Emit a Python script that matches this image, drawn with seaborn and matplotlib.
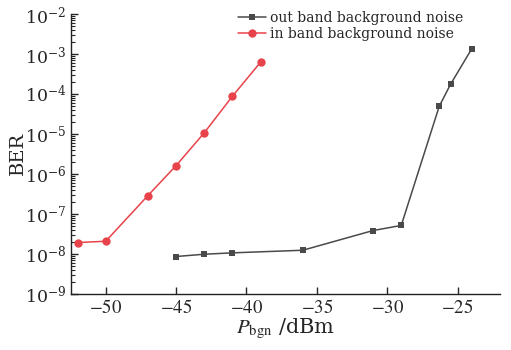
import numpy as np
import pandas as pd
import matplotlib
matplotlib.use("Agg")
import matplotlib.pyplot as plt
import matplotlib.ticker as mticker
import seaborn as sns

# data
out_x = [-45, -43, -41, -36, -31, -29, -26.3, -25.5, -24]
out_ber = [8.5e-9, 9.7e-9, 1.05e-8, 1.22e-8, 3.8e-8, 5.1e-8, 4.9e-5, 1.73e-4, 1.33e-3]
in_x = [-52, -50, -47, -45, -43, -41, -39]
in_ber = [1.9e-8, 2.05e-8, 2.85e-7, 1.6e-6, 1.06e-5, 8.7e-5, 6.2e-4]

sns.set_style("ticks")
plt.rcParams['font.family'] = ['DejaVu Serif', 'Liberation Serif']
plt.rcParams['mathtext.fontset'] = 'stix'

fig = plt.figure(figsize=(5.11, 3.5), dpi=100)
ax = fig.add_axes([0.138, 0.161, 0.84, 0.799])

sns.lineplot(x=out_x, y=out_ber, ax=ax, color='#4a4a4a', marker='s', markersize=5,
             markeredgewidth=0, linewidth=1.1, label='out band background noise')
sns.lineplot(x=in_x, y=in_ber, ax=ax, color='#e8434a', marker='o', markersize=6,
             markeredgewidth=0, linewidth=1.1, label='in band background noise')

ax.set_yscale('log')
ax.set_ylim(1e-9, 1e-2)
ax.set_xlim(-52.5, -22)
ax.set_xticks([-50, -45, -40, -35, -30, -25])
ax.set_xticklabels(['$-50$', '$-45$', '$-40$', '$-35$', '$-30$', '$-25$'])
ax.yaxis.set_major_locator(mticker.LogLocator(base=10, numticks=10))
ax.yaxis.set_minor_locator(mticker.LogLocator(base=10, subs=np.arange(2, 10), numticks=20))
ax.yaxis.set_minor_formatter(mticker.NullFormatter())

ax.tick_params(axis='x', which='major', direction='in', length=5, width=1, labelsize=13.5, pad=4)
ax.tick_params(axis='y', which='major', direction='in', length=5, width=1, labelsize=12.5, pad=3)
ax.tick_params(axis='y', which='minor', direction='in', length=3, width=0.8)
for s in ['top', 'right']:
    ax.spines[s].set_visible(False)
for s in ['left', 'bottom']:
    ax.spines[s].set_linewidth(1)
    ax.spines[s].set_color('#222222')

ax.set_ylabel('BER', fontsize=14)
ax.yaxis.set_label_coords(-0.102, 0.5)
ax.set_xlabel(r'$P_{\rm bgn}$ /dBm', fontsize=15, labelpad=0)

leg = ax.legend(loc='upper right', bbox_to_anchor=(0.928, 1.03), frameon=False, fontsize=10,
                handlelength=2.0, handletextpad=0.3, labelspacing=0.15, borderaxespad=0)

fig.savefig('out.png', dpi=100)
